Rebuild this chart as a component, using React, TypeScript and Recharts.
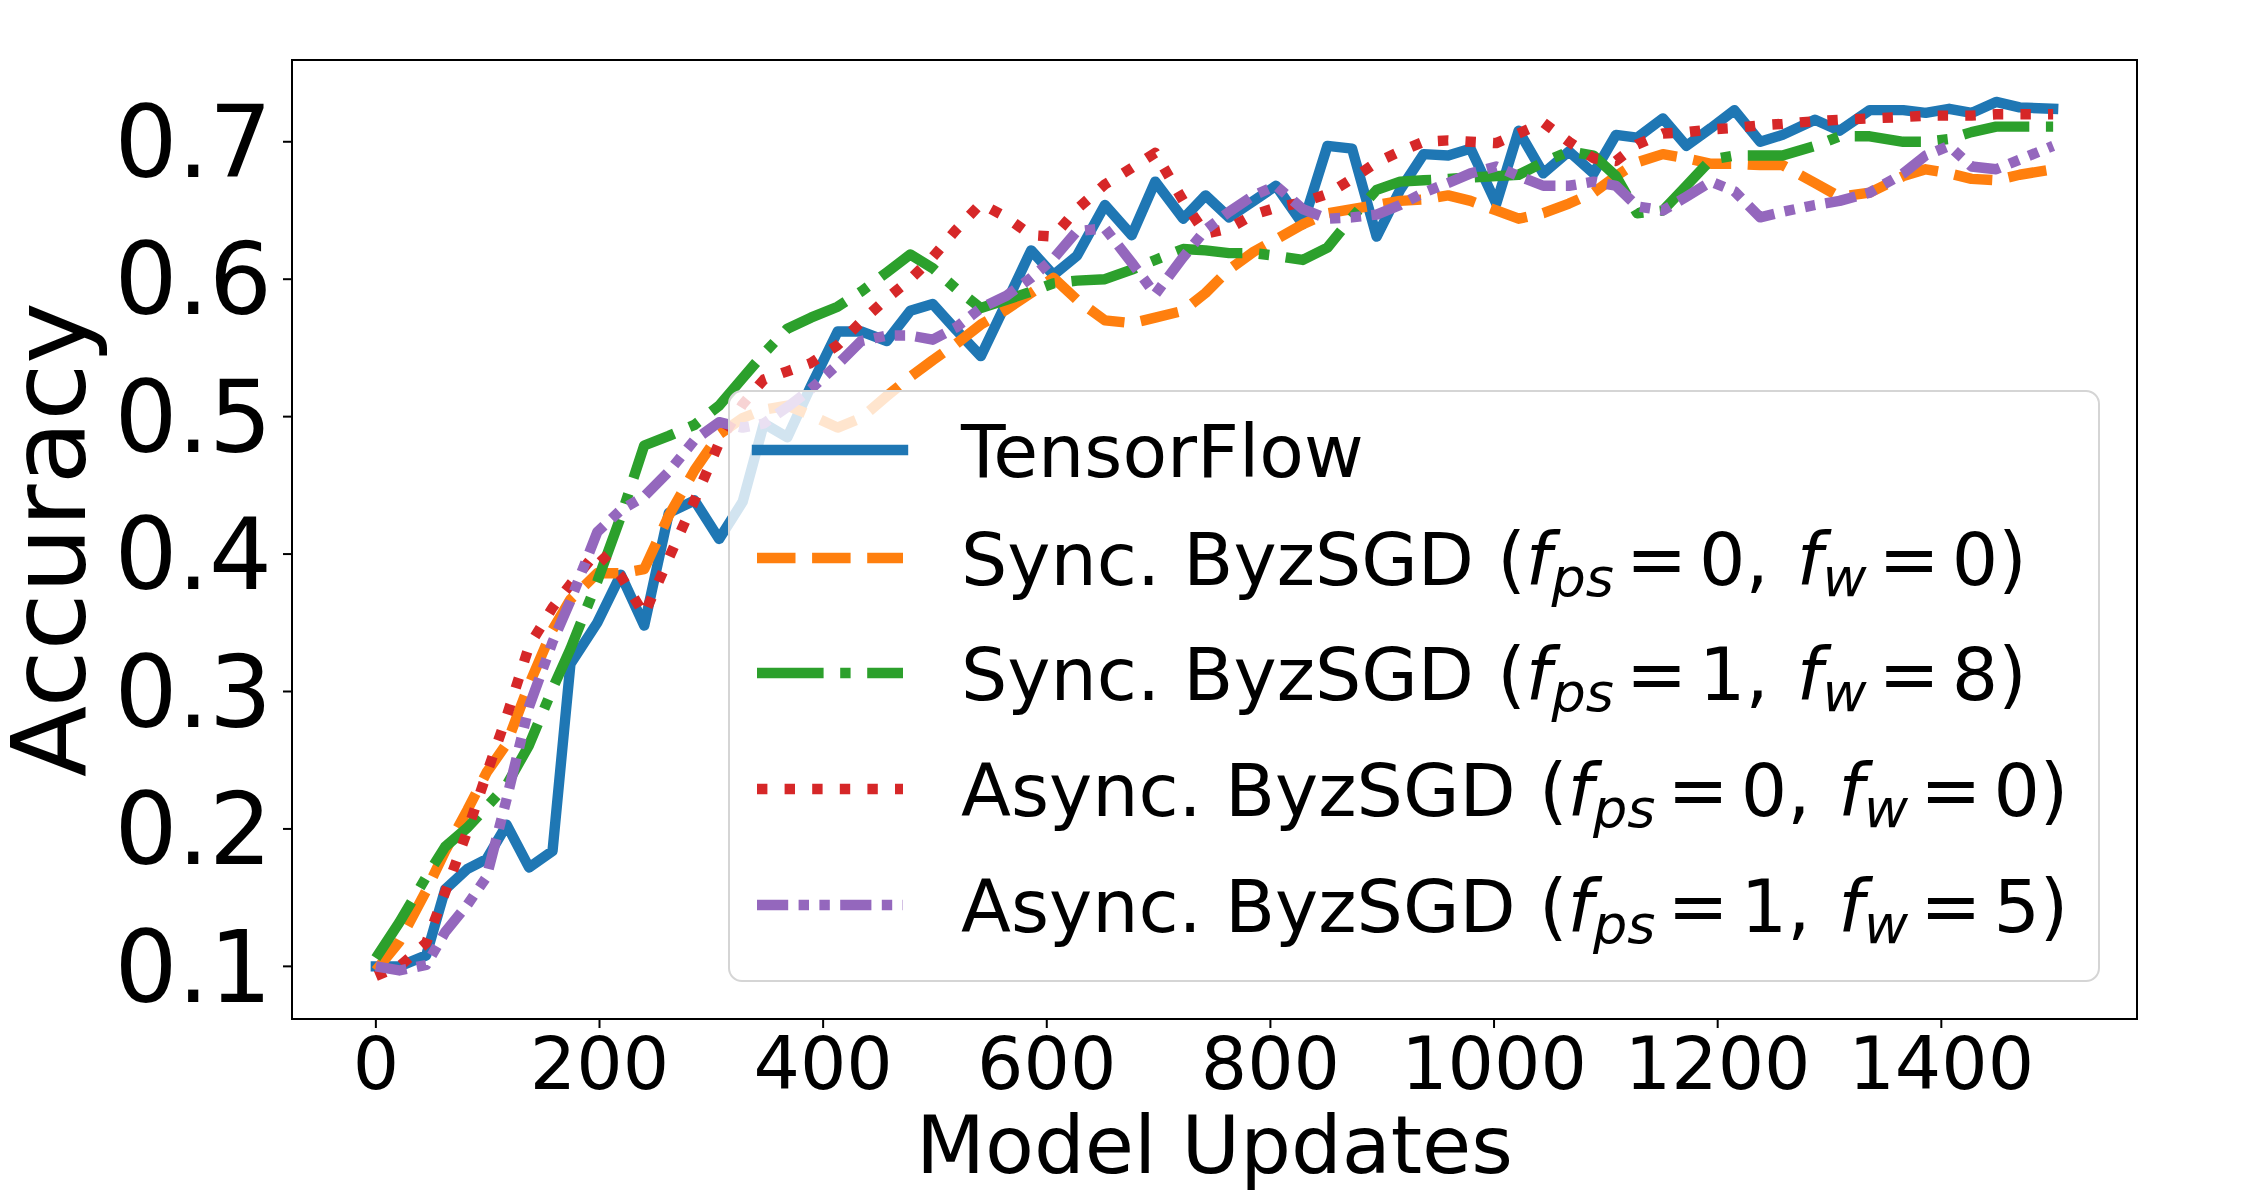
import { LineChart, Line, XAxis, YAxis, ReferenceArea, Legend, Label } from "recharts";

// model updates at which accuracy was logged (shared by every run)
const updates = [
  0, 21, 45, 62, 82, 99, 117, 137, 158, 174,
  198, 219, 240, 262, 285, 307, 328, 347, 368, 389,
  413, 434, 457, 478, 498, 519, 541, 564, 586, 606,
  627, 652, 676, 697, 722, 742, 763, 785, 805, 829,
  851, 873, 895, 916, 937, 959, 979, 1002, 1022, 1044,
  1067, 1089, 1109, 1128, 1151, 1172, 1194, 1215, 1238, 1258,
  1287, 1309, 1336, 1366, 1386, 1407, 1427, 1449, 1470, 1500,
];

const tensorflow = [
  0.100, 0.100, 0.108, 0.156, 0.171, 0.178, 0.203, 0.172, 0.184, 0.320,
  0.350, 0.385, 0.348, 0.430, 0.439, 0.411, 0.438, 0.495, 0.485, 0.522,
  0.562, 0.562, 0.555, 0.577, 0.582, 0.563, 0.544, 0.583, 0.621, 0.603,
  0.617, 0.654, 0.632, 0.671, 0.644, 0.661, 0.645, 0.657, 0.668, 0.640,
  0.697, 0.695, 0.631, 0.665, 0.691, 0.690, 0.695, 0.655, 0.708, 0.677,
  0.693, 0.677, 0.705, 0.703, 0.717, 0.697, 0.710, 0.723, 0.700, 0.705,
  0.716, 0.708, 0.723, 0.723, 0.721, 0.724, 0.721, 0.729, 0.725, 0.724,
];

const syncClean = [
  0.097, 0.118, 0.155, 0.184, 0.214, 0.241, 0.262, 0.305, 0.345, 0.367,
  0.386, 0.386, 0.389, 0.428, 0.461, 0.487, 0.499, 0.505, 0.508, 0.501,
  0.492, 0.499, 0.515, 0.529, 0.541, 0.553, 0.567, 0.578, 0.590, 0.601,
  0.585, 0.570, 0.568, 0.572, 0.577, 0.590, 0.607, 0.620, 0.629, 0.640,
  0.648, 0.651, 0.654, 0.657, 0.658, 0.661, 0.657, 0.650, 0.644, 0.648,
  0.655, 0.663, 0.675, 0.685, 0.691, 0.688, 0.684, 0.684, 0.683, 0.683,
  0.670, 0.660, 0.663, 0.675, 0.680, 0.677, 0.673, 0.672, 0.676, 0.680,
];

const syncByz = [
  0.106, 0.132, 0.165, 0.187, 0.201, 0.216, 0.232, 0.261, 0.302, 0.331,
  0.380, 0.427, 0.479, 0.486, 0.494, 0.508, 0.528, 0.546, 0.564, 0.572,
  0.580, 0.591, 0.605, 0.618, 0.608, 0.593, 0.579, 0.585, 0.591, 0.597,
  0.599, 0.600, 0.607, 0.614, 0.622, 0.621, 0.619, 0.619, 0.617, 0.614,
  0.623, 0.645, 0.665, 0.671, 0.672, 0.673, 0.674, 0.675, 0.676, 0.685,
  0.693, 0.690, 0.675, 0.648, 0.650, 0.668, 0.687, 0.690, 0.690, 0.690,
  0.697, 0.704, 0.704, 0.700, 0.700, 0.702, 0.707, 0.711, 0.711, 0.711,
];

const asyncClean = [
  0.093, 0.100, 0.117, 0.154, 0.199, 0.240, 0.282, 0.333, 0.361, 0.378,
  0.402, 0.384, 0.356, 0.397, 0.439, 0.481, 0.509, 0.527, 0.533, 0.539,
  0.552, 0.569, 0.586, 0.600, 0.616, 0.636, 0.655, 0.645, 0.632, 0.631,
  0.651, 0.669, 0.681, 0.692, 0.657, 0.633, 0.637, 0.647, 0.652, 0.656,
  0.662, 0.673, 0.685, 0.693, 0.700, 0.701, 0.700, 0.699, 0.706, 0.714,
  0.700, 0.688, 0.686, 0.698, 0.706, 0.707, 0.709, 0.710, 0.712, 0.713,
  0.715, 0.716, 0.717, 0.718, 0.719, 0.719, 0.719, 0.720, 0.720, 0.720,
];

const asyncByz = [
  0.100, 0.097, 0.101, 0.125, 0.145, 0.165, 0.222, 0.289, 0.336, 0.366,
  0.416, 0.432, 0.442, 0.460, 0.483, 0.496, 0.492, 0.495, 0.507, 0.520,
  0.538, 0.555, 0.559, 0.559, 0.556, 0.565, 0.579, 0.588, 0.601, 0.615,
  0.635, 0.637, 0.612, 0.589, 0.616, 0.636, 0.649, 0.661, 0.668, 0.651,
  0.644, 0.645, 0.647, 0.654, 0.663, 0.670, 0.677, 0.682, 0.675, 0.668,
  0.668, 0.671, 0.668, 0.653, 0.650, 0.660, 0.671, 0.664, 0.645, 0.649,
  0.654, 0.657, 0.663, 0.677, 0.690, 0.697, 0.682, 0.680, 0.687, 0.697,
];

const xTicks = [0, 200, 400, 600, 800, 1000, 1200, 1400];
const yTicks = [0.1, 0.2, 0.3, 0.4, 0.5, 0.6, 0.7];
const xDomain: [number, number] = [-75, 1575];
const yDomain: [number, number] = [0.0617, 0.7595];

const FONT = "DejaVu Sans";
const LW = 10.4;

type Series = {
  key: string;
  values: number[];
  color: string;
  dash?: string;
  cap: "square" | "butt";
  head: string;
  fps?: string;
  fw?: string;
};

const series: Series[] = [
  { key: "tf", values: tensorflow, color: "#1f77b4", cap: "square", head: "TensorFlow" },
  { key: "syncClean", values: syncClean, color: "#ff7f0e", dash: "38.5 16.6", cap: "butt", head: "Sync. ByzSGD", fps: "0", fw: "0" },
  { key: "syncByz", values: syncByz, color: "#2ca02c", dash: "66.6 16.6 10.4 16.6", cap: "butt", head: "Sync. ByzSGD", fps: "1", fw: "8" },
  { key: "asyncClean", values: asyncClean, color: "#d62728", dash: "10.4 17.2", cap: "butt", head: "Async. ByzSGD", fps: "0", fw: "0" },
  { key: "asyncByz", values: asyncByz, color: "#9467bd", dash: "31.2 10.4 10.4 10.4 10.4 10.4", cap: "butt", head: "Async. ByzSGD", fps: "1", fw: "5" },
];

const rows = updates.map((x, i) => {
  const row: Record<string, number> = { x };
  series.forEach((s) => (row[s.key] = s.values[i]));
  return row;
});

const legendRowY = [58, 166, 281, 397, 513];

function LegendLabel({ s, y }: { s: Series; y: number }) {
  if (s.fps === undefined) {
    return (
      <text x={231} y={y} fontSize={73} fontFamily={FONT} fill="#000">
        {s.head}
      </text>
    );
  }
  // f_ps / f_w written like inline math: italic symbols, lowered subscripts
  return (
    <text x={231} y={y} fontSize={73} fontFamily={FONT} fill="#000">
      <tspan>{s.head} (</tspan>
      <tspan fontStyle="italic">f</tspan>
      <tspan fontSize={54} fontStyle="italic" dy={11}>ps</tspan>
      <tspan dy={-11} dx={12}>=</tspan>
      <tspan dx={12}>{s.fps},</tspan>
      <tspan dx={28} fontStyle="italic">f</tspan>
      <tspan fontSize={54} fontStyle="italic" dy={11}>w</tspan>
      <tspan dy={-11} dx={12}>=</tspan>
      <tspan dx={12}>{s.fw})</tspan>
    </text>
  );
}

function LegendBox() {
  return (
    <div
      style={{
        width: 1372,
        height: 592,
        boxSizing: "border-box",
        border: "2px solid #d5d5d5",
        borderRadius: 14,
        background: "rgba(255,255,255,0.8)",
      }}
    >
      <svg width={1368} height={588} style={{ display: "block" }}>
        {series.map((s, i) => (
          <g key={s.key}>
            <line
              x1={27}
              x2={173}
              y1={legendRowY[i]}
              y2={legendRowY[i]}
              stroke={s.color}
              strokeWidth={LW}
              strokeDasharray={s.dash}
              strokeLinecap={s.cap}
            />
            <LegendLabel s={s} y={legendRowY[i] + 26.5} />
          </g>
        ))}
      </svg>
    </div>
  );
}

export default function App() {
  return (
    <div style={{ position: "absolute", left: 0, top: 0, width: 2250, height: 1200, background: "#fff" }}>
      <LineChart width={2250} height={1200} data={rows} margin={{ top: 60, right: 113, bottom: 81, left: 172 }}>
        <XAxis
          dataKey="x"
          type="number"
          domain={xDomain}
          allowDataOverflow
          ticks={xTicks}
          height={100}
          axisLine={false}
          tickLine={{ stroke: "#000", strokeWidth: 2 }}
          tickSize={9}
          tickMargin={9}
          tick={{ fontSize: 73, fill: "#000", fontFamily: FONT }}
        >
          <Label
            content={(props: any) => {
              const vb = props.viewBox || { x: 292, y: 1019, width: 1845 };
              return (
                <text x={vb.x + vb.width / 2} y={vb.y + 154} textAnchor="middle" fontSize={80} fontFamily={FONT} fill="#000">
                  Model Updates
                </text>
              );
            }}
          />
        </XAxis>
        <YAxis
          type="number"
          domain={yDomain}
          allowDataOverflow
          ticks={yTicks}
          width={120}
          axisLine={false}
          tickLine={{ stroke: "#000", strokeWidth: 2 }}
          tickSize={9}
          tickMargin={11}
          tickFormatter={(v: number) => v.toFixed(1)}
          tick={{ fontSize: 99, fill: "#000", fontFamily: FONT }}
        >
          <Label
            content={(props: any) => {
              const vb = props.viewBox || { x: 172, y: 60, width: 120, height: 959 };
              const cx = vb.x + vb.width - 207;
              const cy = vb.y + vb.height / 2;
              return (
                <text x={cx} y={cy} transform={`rotate(-90 ${cx} ${cy})`} textAnchor="middle" fontSize={104} fontFamily={FONT} fill="#000">
                  Accuracy
                </text>
              );
            }}
          />
        </YAxis>
        <ReferenceArea
          x1={xDomain[0]}
          x2={xDomain[1]}
          y1={yDomain[0]}
          y2={yDomain[1]}
          ifOverflow="visible"
          fill="none"
          fillOpacity={0}
          stroke="#000"
          strokeWidth={2}
        />
        {series.map((s) => (
          <Line
            key={s.key}
            dataKey={s.key}
            type="linear"
            stroke={s.color}
            strokeWidth={LW}
            strokeDasharray={s.dash}
            strokeLinecap={s.cap}
            strokeLinejoin="round"
            dot={false}
            activeDot={false}
            isAnimationActive={false}
          />
        ))}
        <Legend
          layout="vertical"
          align="center"
          verticalAlign="middle"
          wrapperStyle={{ left: 728, top: 390, width: 1372, height: 592 }}
          content={() => <LegendBox />}
        />
      </LineChart>
    </div>
  );
}
